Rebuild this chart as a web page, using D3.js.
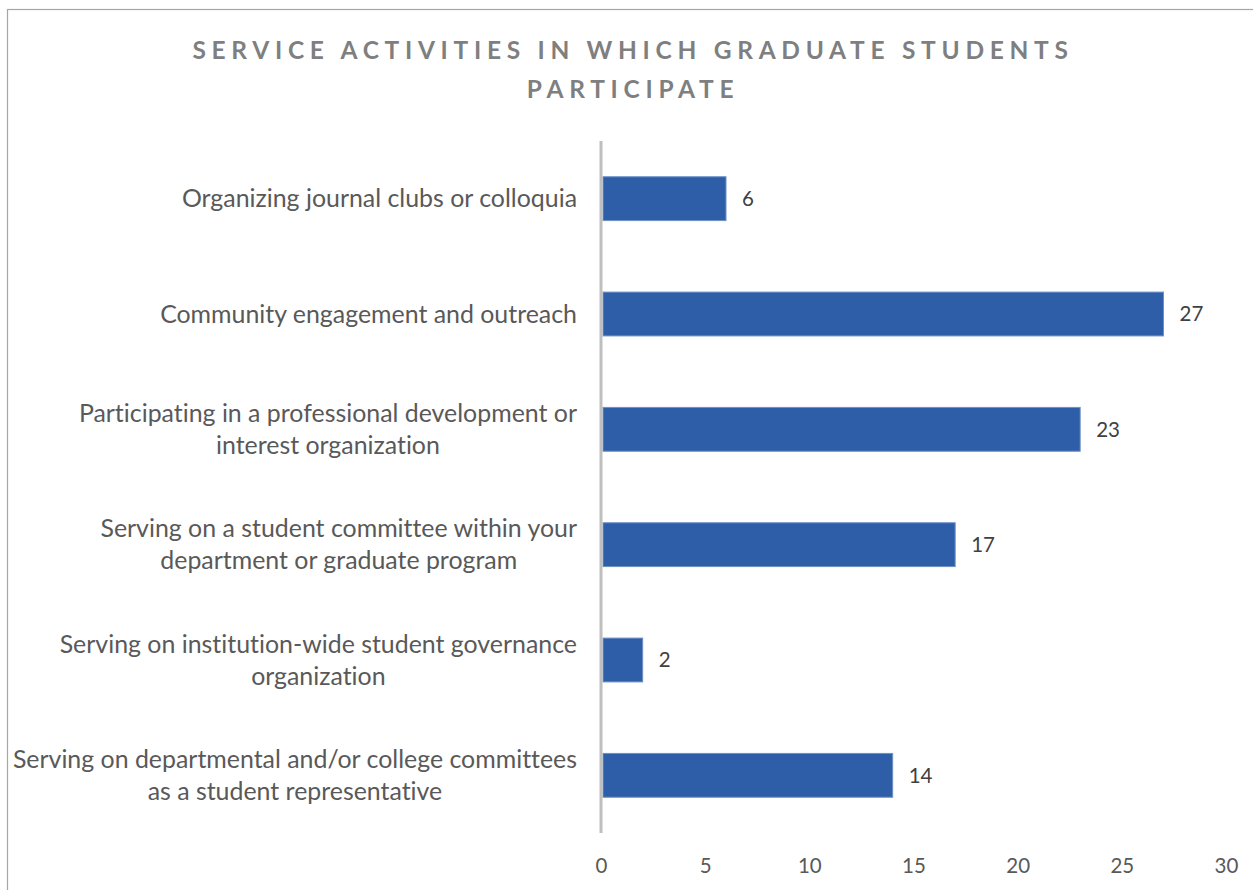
<!DOCTYPE html>
<html>
<head>
<meta charset="utf-8">
<script src="https://cdn.jsdelivr.net/npm/d3@7/dist/d3.min.js"></script>
<style>
  html, body { margin: 0; padding: 0; background: #fff; }
  svg { display: block; }
  text { font-family: Lato, "Open Sans", sans-serif; font-variant-ligatures: none; }
</style>
</head>
<body>
<svg id="chart" width="1253" height="890"></svg>
<script>
// Service activities (top to bottom) and the number of respondents for each
const categories = [
  ["Organizing journal clubs or colloquia"],
  ["Community engagement and outreach"],
  ["Participating in a professional development or", "interest organization"],
  ["Serving on a student committee within your", "department or graduate program"],
  ["Serving on institution-wide student governance", "organization"],
  ["Serving on departmental and/or college committees", "as a student representative"]
];
const counts = [6, 27, 23, 17, 2, 14];
const xTicks = [0, 5, 10, 15, 20, 25, 30];
const titleLines = ["SERVICE ACTIVITIES IN WHICH GRADUATE STUDENTS", "PARTICIPATE"];

const svg = d3.select("#chart");
const W = 1253, H = 890;

// Chart frame
svg.append("rect")
  .attr("x", 7.5).attr("y", 9.5)
  .attr("width", W + 10).attr("height", H + 10)
  .attr("fill", "#fff").attr("stroke", "#A6A6A6").attr("stroke-width", 1.2);

const plot = { left: 601, right: 1226, top: 141, bottom: 833 };

const x = d3.scaleLinear().domain([0, 30]).range([plot.left, plot.right]);
const y = d3.scaleBand()
  .domain(d3.range(categories.length))
  .range([plot.top, plot.bottom])
  .paddingInner(0.62).paddingOuter(0.31);

// Title
const title = svg.append("text")
  .attr("text-anchor", "middle")
  .attr("fill", "#7F7F7F")
  .attr("font-size", 24.5)
  .attr("font-weight", 700)
  .attr("letter-spacing", 5.7);
titleLines.forEach((t, i) => {
  title.append("tspan").attr("x", 633).attr("y", 59 + i * 39).text(t);
});

// Bars
svg.append("g").selectAll("rect")
  .data(counts)
  .join("rect")
  .attr("x", x(0) + 2)
  .attr("y", (d, i) => y(i))
  .attr("width", d => x(d) - x(0) - 2)
  .attr("height", y.bandwidth())
  .attr("fill", "#2E5EA8")
  .attr("stroke", "#6F90C6")
  .attr("stroke-width", 1);

// Value labels
svg.append("g").selectAll("text")
  .data(counts)
  .join("text")
  .attr("x", d => x(d) + 16)
  .attr("y", (d, i) => y(i) + y.bandwidth() / 2)
  .attr("dy", "0.35em")
  .attr("fill", "#404040")
  .attr("font-size", 20.5)
  .text(d => d);

// Category labels
const labels = svg.append("g").selectAll("text")
  .data(categories)
  .join("text")
  .attr("text-anchor", "end")
  .attr("fill", "#595959")
  .attr("font-size", 24.9);
labels.each(function(lines, i) {
  const cy = y(i) + y.bandwidth() / 2;
  const lh = 32;
  const y0 = cy - (lines.length - 1) * lh / 2;
  lines.forEach((ln, j) => {
    d3.select(this).append("tspan")
      .attr("x", 577)
      .attr("y", y0 + j * lh)
      .attr("dy", "0.35em")
      .text(ln);
  });
});
// Second lines of wrapped labels are centred under the first line
labels.each(function() {
  const spans = d3.select(this).selectAll("tspan").nodes();
  if (spans.length > 1) {
    const w0 = spans[0].getComputedTextLength();
    const mid = 577 - w0 / 2;
    d3.select(spans[1]).attr("x", mid).attr("text-anchor", "middle");
  }
});

// Category axis line
svg.append("line")
  .attr("x1", x(0)).attr("x2", x(0))
  .attr("y1", plot.top).attr("y2", plot.bottom)
  .attr("stroke", "#BFBFBF").attr("stroke-width", 3);

// Value axis (labels only)
const xAxis = svg.append("g")
  .attr("transform", `translate(0,${plot.bottom})`)
  .call(d3.axisBottom(x).tickValues(xTicks).tickSize(0).tickPadding(25));
xAxis.select(".domain").remove();
xAxis.selectAll("text")
  .attr("fill", "#595959")
  .attr("font-size", 20.5)
  .attr("font-family", "Lato, 'Open Sans', sans-serif");
</script>
</body>
</html>
